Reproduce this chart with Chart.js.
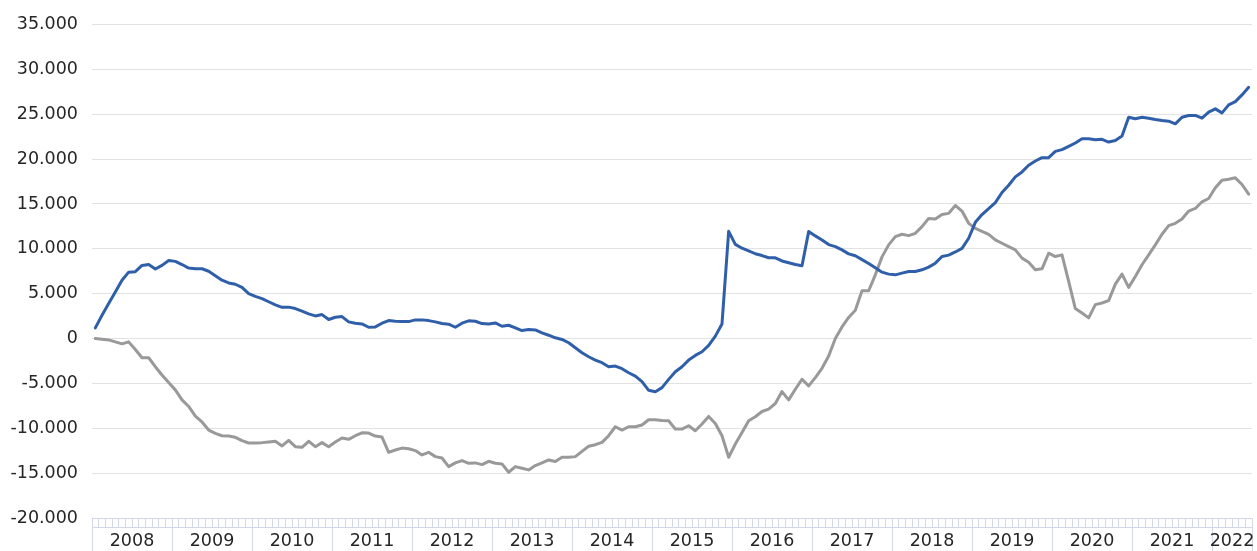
<!DOCTYPE html>
<html>
<head>
<meta charset="utf-8">
<script src="https://cdn.jsdelivr.net/npm/chart.js@4.4.0/dist/chart.umd.min.js"></script>
<style>
  html, body { margin: 0; padding: 0; background: #fff; }
  #wrap { width: 1257px; height: 551px; position: relative; }
</style>
</head>
<body>
<div id="wrap"><canvas id="lineChart"></canvas></div>
<script>
// years shown on the axis, the last one only runs to June
const years = ['2008', '2009', '2010', '2011', '2012', '2013', '2014', '2015',
  '2016', '2017', '2018', '2019', '2020', '2021', '2022'];
const monthsInYear = [12, 12, 12, 12, 12, 12, 12, 12, 12, 12, 12, 12, 12, 12, 6];

// y axis ticks
const yTicks = [-20000, -15000, -10000, -5000, 0, 5000, 10000, 15000, 20000, 25000, 30000, 35000];

// blue series, monthly
const serieA = [
  1190, 2600, 3900, 5200, 6500, 7400, 7450, 8150, 8250, 7750, 8150, 8700,
  8600, 8250, 7850, 7770, 7780, 7500, 7000, 6500, 6200, 6050, 5700, 5000,
  4700, 4450, 4100, 3750, 3480, 3500, 3340, 3050, 2750, 2520, 2670, 2120,
  2370, 2450, 1860, 1710, 1630, 1260, 1300, 1710, 2000, 1930, 1890, 1890,
  2080, 2080, 2000, 1860, 1670, 1600, 1260, 1710, 1970, 1930, 1670, 1630,
  1740, 1370, 1480, 1180, 890, 1000, 960, 630, 370, 80, -100, -470,
  -1030, -1580, -2030, -2400, -2690, -3140, -3070, -3360, -3810, -4180, -4810, -5770,
  -5920, -5470, -4550, -3700, -3140, -2400, -1880, -1470, -770, 270, 1630, 11950,
  10500, 10070, 9780, 9450, 9250, 9000, 9000, 8650, 8450, 8250, 8120, 11920,
  11440, 10990, 10470, 10250, 9880, 9440, 9230, 8800, 8370, 7880, 7400, 7180,
  7100, 7290, 7470, 7470, 7660, 7960, 8400, 9140, 9300, 9650, 10050, 11180,
  12950, 13820, 14470, 15150, 16280, 17090, 18020, 18570, 19310, 19790, 20160, 20160,
  20860, 21050, 21420, 21790, 22270, 22270, 22160, 22200, 21900, 22080, 22570, 24670,
  24490, 24670, 24560, 24410, 24300, 24230, 23930, 24670, 24860, 24860, 24560, 25230,
  25600, 25150, 26040, 26410, 27150, 28000
];

// grey series, monthly
const serieB = [
  0, -70, -150, -370, -590, -370, -1220, -2140, -2140, -3140, -4060, -4910,
  -5720, -6830, -7570, -8650, -9300, -10200, -10570, -10830, -10870, -11010, -11380, -11640,
  -11640, -11600, -11530, -11450, -11970, -11350, -12050, -12120, -11450, -12050, -11600, -12050,
  -11530, -11090, -11230, -10830, -10500, -10530, -10870, -10980, -12680, -12420, -12210, -12280,
  -12490, -12970, -12680, -13160, -13310, -14270, -13860, -13600, -13900, -13860, -14050, -13680,
  -13900, -13970, -14900, -14270, -14450, -14640, -14160, -13860, -13530, -13710, -13230, -13230,
  -13160, -12570, -12010, -11830, -11570, -10830, -9830, -10200, -9830, -9830, -9640, -9050,
  -9050, -9130, -9160, -10090, -10090, -9720, -10270, -9530, -8680, -9460, -10830, -13230,
  -11750, -10460, -9160, -8720, -8130, -7870, -7240, -5910, -6830, -5650, -4540, -5280,
  -4360, -3320, -1950, 0, 1300, 2350, 3150, 5330, 5330, 7100, 9100, 10440,
  11360, 11620, 11470, 11730, 12470, 13390, 13320, 13830, 13950, 14830, 14210, 12840,
  12280, 11950, 11620, 10990, 10620, 10250, 9880, 8960, 8510, 7660, 7770, 9510,
  9140, 9330, 6370, 3340, 2850, 2300, 3780, 3960, 4220, 6070, 7180, 5700,
  6920, 8220, 9330, 10440, 11620, 12580, 12840, 13320, 14210, 14500, 15240, 15610,
  16800, 17650, 17760, 17910, 17170, 16090
];

// month categories built from the years
const categories = [];
years.forEach((y, k) => {
  for (let m = 1; m <= monthsInYear[k]; m++) {
    categories.push(y + '-' + String(m).padStart(2, '0'));
  }
});

// year boundaries and year centres for the second axis
const yearTicks = [];
let start = 0;
years.forEach((y, k) => {
  yearTicks.push({ value: start });
  yearTicks.push({ value: start + monthsInYear[k] / 2, year: y });
  start += monthsInYear[k];
});
yearTicks.push({ value: start });

const axisColor = '#d3d8e8';
const gridColor = '#e2e2e2';
const textColor = '#262626';

function fmt(v) {
  const s = Math.abs(v).toString().replace(/\B(?=(\d{3})+(?!\d))/g, '.');
  return (v < 0 ? '-' : '') + s;
}

Chart.defaults.font.family = "'DejaVu Sans', sans-serif";

const ctx = document.getElementById('lineChart').getContext('2d');
const chart = new Chart(ctx, {
  type: 'line',
  data: {
    labels: categories,
    datasets: [
      {
        label: 'Serie A',
        data: serieA,
        borderColor: '#2f5fa9',
        borderWidth: 3,
        pointRadius: 0,
        tension: 0,
        borderJoinStyle: 'round',
        borderCapStyle: 'round'
      },
      {
        label: 'Serie B',
        data: serieB,
        borderColor: '#999999',
        borderWidth: 3,
        pointRadius: 0,
        tension: 0,
        borderJoinStyle: 'round',
        borderCapStyle: 'round'
      }
    ]
  },
  options: {
    responsive: true,
    maintainAspectRatio: false,
    animation: false,
    layout: { padding: { top: 22, right: 5, bottom: 0, left: 0 } },
    plugins: {
      legend: { display: false },
      tooltip: { enabled: false }
    },
    scales: {
      x: {
        type: 'category',
        position: 'bottom',
        offset: true,
        grid: {
          offset: true,
          drawOnChartArea: false,
          tickLength: 9,
          color: axisColor,
          lineWidth: 1
        },
        border: { display: true, color: axisColor, width: 1 },
        ticks: { display: false }
      },
      years: {
        type: 'linear',
        position: 'bottom',
        min: 0,
        max: categories.length,
        afterBuildTicks: (axis) => {
          axis.ticks = yearTicks.map(t => ({ ...t }));
        },
        afterFit: (axis) => { axis.height = 24; },
        grid: {
          drawOnChartArea: false,
          tickLength: 24,
          lineWidth: 1,
          color: (c) => (c.tick && c.tick.year) ? 'rgba(0,0,0,0)' : axisColor
        },
        border: { display: true, color: axisColor, width: 1 },
        ticks: {
          autoSkip: false,
          maxRotation: 0,
          minRotation: 0,
          padding: -20.5,
          color: textColor,
          font: { size: 17.5 },
          callback: (value, index, ticks) => ticks[index].year || ''
        }
      },
      y: {
        min: -20000,
        max: 35000,
        afterBuildTicks: (axis) => {
          axis.ticks = yTicks.map(v => ({ value: v }));
        },
        afterFit: (axis) => { axis.width = 92; },
        grid: {
          drawTicks: false,
          lineWidth: 1,
          color: (c) => (c.tick && c.tick.value === -20000) ? axisColor : gridColor
        },
        border: { display: false },
        ticks: {
          padding: 14,
          color: textColor,
          font: { size: 17.5 },
          callback: (v) => fmt(v)
        }
      }
    }
  }
});
</script>
</body>
</html>
